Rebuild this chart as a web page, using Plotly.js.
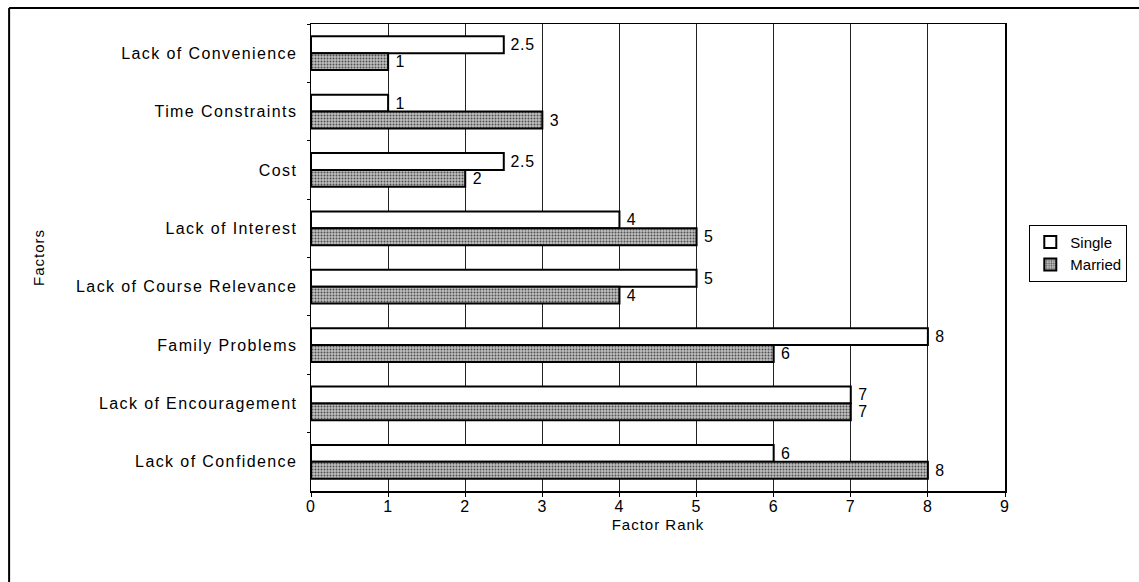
<!DOCTYPE html>
<html>
<head>
<meta charset="utf-8">
<script src="https://cdn.plot.ly/plotly-3.0.1.min.js"></script>
<style>
html,body{margin:0;padding:0;background:#fff;}
#chart{width:1139px;height:582px;}
#chart .ytick text{letter-spacing:1.4px;}
#chart .xtick text, #chart .xtitle, #chart .ytitle{letter-spacing:1px;}
#chart .bartext{letter-spacing:0.8px;}
</style>
</head>
<body>
<div id="chart"></div>
<script>
const categories = ["Lack of Convenience","Time Constraints","Cost","Lack of Interest","Lack of Course Relevance","Family Problems","Lack of Encouragement","Lack of Confidence"];
const singleValues = [2.5, 1, 2.5, 4, 5, 8, 7, 6];
const marriedValues = [1, 3, 2, 5, 4, 6, 7, 8];
const seriesNames = ["Single", "Married"];
const xTicks = [0,1,2,3,4,5,6,7,8,9];

const font = "Liberation Sans, Arial, sans-serif";
const pad = "\u00a0";

const traces = [
  {
    type: "bar", orientation: "h", name: seriesNames[0],
    y: categories, x: singleValues,
    text: singleValues.map(v => pad + v), textposition: "outside", cliponaxis: false,
    textfont: {family: font, size: 16, color: "#000"},
    marker: {color: "#ffffff", line: {color: "#000", width: 2}}
  },
  {
    type: "bar", orientation: "h", name: seriesNames[1],
    y: categories, x: marriedValues,
    text: marriedValues.map(v => pad + v), textposition: "outside", cliponaxis: false,
    textfont: {family: font, size: 16, color: "#000"},
    marker: {color: "#b0b0b0", line: {color: "#000", width: 2},
      pattern: {shape: ".", fgcolor: "#505050", bgcolor: "#c0c0c0", size: 3, solidity: 0.35}}
  }
];

const layout = {
  width: 1139, height: 582,
  margin: {l: 311, r: 129, t: 24, b: 91},
  paper_bgcolor: "#fff", plot_bgcolor: "#fff",
  font: {family: font, size: 15, color: "#000"},
  barmode: "group", bargap: 0.42, bargroupgap: 0,
  showlegend: true,
  legend: {x: 1.035, xanchor: "left", y: 0.57, yanchor: "top",
    bordercolor: "#000", borderwidth: 1, bgcolor: "#fff",
    font: {family: font, size: 15, color: "#000"}, tracegroupgap: 0,
    itemwidth: 30},
  xaxis: {
    range: [0, 9], tickvals: xTicks, ticktext: xTicks.map(String),
    showgrid: true, gridcolor: "#222", gridwidth: 1,
    showline: true, linecolor: "#000", linewidth: 1.5, mirror: true,
    ticks: "outside", ticklen: 4, tickcolor: "#000",
    ticklabelstandoff: -4,
    zeroline: false,
    tickfont: {family: font, size: 16, color: "#000"},
    title: {text: "Factor Rank", font: {family: font, size: 15, color: "#000"}, standoff: 6}
  },
  yaxis: {
    type: "category", autorange: "reversed",
    showgrid: false, showline: true, linecolor: "#000", linewidth: 1.5, mirror: true,
    ticks: "outside", tickson: "boundaries", ticklen: 3, tickcolor: "#000",
    ticklabelstandoff: 9,
    tickfont: {family: font, size: 16, color: "#000"},
    title: {text: "Factors", font: {family: font, size: 15, color: "#000"}, standoff: 61}
  },
  shapes: [
    {type: "line", xref: "paper", yref: "paper", x0: -0.435, x1: 1.2, y0: 1.034, y1: 1.034, line: {color: "#000", width: 2}},
    {type: "line", xref: "paper", yref: "paper", x0: -0.435, x1: -0.435, y0: 1.034, y1: -0.25, line: {color: "#000", width: 2}}
  ]
};

Plotly.newPlot("chart", traces, layout, {displayModeBar: false, staticPlot: true});
</script>
</body>
</html>
